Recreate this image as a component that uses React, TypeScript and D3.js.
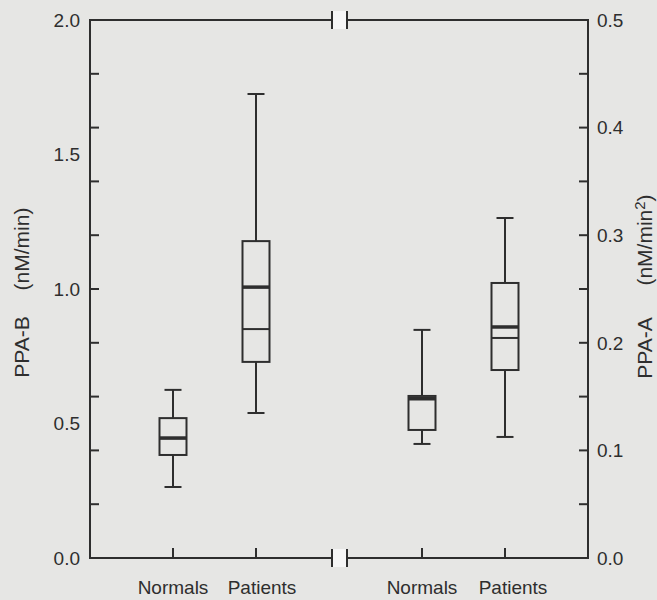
import React, { useEffect } from 'react';
import * as d3 from 'd3';

// groups on each side of the axis break
const groups = ['Normals', 'Patients'];

// PPA-B (left axis, nM/min): lower whisker, Q1, thin line, thick line, Q3, upper whisker
const ppaBLow = [0.264, 0.539];
const ppaBQ1 = [0.383, 0.729];
const ppaBThin = [0.445, 0.851];
const ppaBThick = [0.446, 1.007];
const ppaBQ3 = [0.52, 1.178];
const ppaBHigh = [0.625, 1.725];

// PPA-A (right axis, nM/min^2)
const ppaALow = [0.106, 0.1125];
const ppaAQ1 = [0.119, 0.1747];
const ppaAThin = [0.148, 0.2045];
const ppaAThick = [0.148, 0.2147];
const ppaAQ3 = [0.1506, 0.2556];
const ppaAHigh = [0.212, 0.316];

const leftTickLabels = [0, 0.5, 1.0, 1.5, 2.0];
const rightTickLabels = [0, 0.1, 0.2, 0.3, 0.4, 0.5];

const W = 657;
const H = 600;
const ink = '#2e2e2e';
const font = 'Liberation Sans, Arial, Helvetica, sans-serif';

export default function App() {
  useEffect(() => {
    document.body.style.margin = '0';
  }, []);

  const top = 20;
  const bottom = 558;
  const axL = 90;
  const axR = 588;
  const brkL = 332;
  const brkR = 347;

  const yB = d3.scaleLinear().domain([0, 2]).range([bottom, top]);
  const yA = d3.scaleLinear().domain([0, 0.5]).range([bottom, top]);
  const xB = d3.scalePoint<string>().domain(groups).range([173, 256]);
  const xA = d3.scalePoint<string>().domain(groups).range([422, 505]);

  const boxW = 27;
  const capW = 17;

  const panels = [
    { x: xB, y: yB, low: ppaBLow, q1: ppaBQ1, thin: ppaBThin, thick: ppaBThick, q3: ppaBQ3, high: ppaBHigh },
    { x: xA, y: yA, low: ppaALow, q1: ppaAQ1, thin: ppaAThin, thick: ppaAThick, q3: ppaAQ3, high: ppaAHigh },
  ];

  const fmt = d3.format('.1f');

  return (
    <svg width={W} height={H} style={{ display: 'block' }} fontFamily={font}>
      <rect width={W} height={H} fill="#e6e6e4" />

      {/* frame with break */}
      <g stroke={ink} strokeWidth={2} fill="none">
        <line x1={axL} x2={axL} y1={top} y2={bottom} />
        <line x1={axR} x2={axR} y1={top} y2={bottom} />
        {[top, bottom].map((yy) => (
          <g key={yy}>
            <line x1={axL - 1} x2={brkL} y1={yy} y2={yy} />
            <line x1={brkR} x2={axR + 1} y1={yy} y2={yy} />
            <rect x={brkL + 1} y={yy - 9} width={brkR - brkL - 2} height={18} fill="#f6f6f6" stroke="none" />
            <line x1={brkL} x2={brkL} y1={yy - 9} y2={yy + 9} />
            <line x1={brkR} x2={brkR} y1={yy - 9} y2={yy + 9} />
          </g>
        ))}
      </g>

      {/* ticks */}
      <g stroke={ink} strokeWidth={2}>
        {yB.ticks(8).map((t) => (
          <line key={'lb' + t} x1={axL} x2={axL + 9} y1={yB(t)} y2={yB(t)} />
        ))}
        {yA.ticks(10).map((t) => (
          <line key={'ra' + t} x1={axR} x2={axR - 9} y1={yA(t)} y2={yA(t)} />
        ))}
        {groups.map((g) => (
          <g key={'xt' + g}>
            <line x1={xB(g)} x2={xB(g)} y1={bottom} y2={bottom - 10} />
            <line x1={xA(g)} x2={xA(g)} y1={bottom} y2={bottom - 10} />
          </g>
        ))}
      </g>

      <g fill={ink} fontSize={19}>
        {leftTickLabels.map((t) => (
          <text key={'lbl' + t} x={axL - 10} y={yB(t)} dy="0.36em" textAnchor="end">
            {fmt(t)}
          </text>
        ))}
        {rightTickLabels.map((t) => (
          <text key={'rl' + t} x={axR + 9} y={yA(t)} dy="0.36em" textAnchor="start">
            {fmt(t)}
          </text>
        ))}
        {groups.map((g, i) => (
          <g key={'xl' + g}>
            <text x={(xB(g) as number) + i * 6} y={594} textAnchor="middle">{g}</text>
            <text x={(xA(g) as number) + i * 8} y={594} textAnchor="middle">{g}</text>
          </g>
        ))}
      </g>

      {/* axis titles */}
      <g fill={ink} fontSize={21}>
        <text transform="translate(29,347) rotate(-90)" textAnchor="middle">PPA-B</text>
        <text transform="translate(29,249) rotate(-90)" textAnchor="middle">(nM/min)</text>
        <text transform="translate(652,348) rotate(-90)" textAnchor="middle">PPA-A</text>
        <text transform="translate(652,240) rotate(-90)" textAnchor="middle">
          (nM/min<tspan dy="-7" fontSize={15}>2</tspan><tspan dy="7">)</tspan>
        </text>
      </g>

      {/* boxes */}
      {panels.map((p, pi) => (
        <g key={'p' + pi} stroke={ink} fill="none">
          {groups.map((g, i) => {
            const cx = p.x(g) as number;
            return (
              <g key={g}>
                <line x1={cx} x2={cx} y1={p.y(p.high[i])} y2={p.y(p.q3[i])} strokeWidth={2} />
                <line x1={cx} x2={cx} y1={p.y(p.q1[i])} y2={p.y(p.low[i])} strokeWidth={2} />
                <line x1={cx - capW / 2} x2={cx + capW / 2} y1={p.y(p.high[i])} y2={p.y(p.high[i])} strokeWidth={2} />
                <line x1={cx - capW / 2} x2={cx + capW / 2} y1={p.y(p.low[i])} y2={p.y(p.low[i])} strokeWidth={2} />
                <rect
                  x={cx - boxW / 2}
                  y={p.y(p.q3[i])}
                  width={boxW}
                  height={p.y(p.q1[i]) - p.y(p.q3[i])}
                  strokeWidth={2}
                />
                <line x1={cx - boxW / 2} x2={cx + boxW / 2} y1={p.y(p.thin[i])} y2={p.y(p.thin[i])} strokeWidth={2} />
                <line x1={cx - boxW / 2} x2={cx + boxW / 2} y1={p.y(p.thick[i])} y2={p.y(p.thick[i])} strokeWidth={3.5} />
              </g>
            );
          })}
        </g>
      ))}
    </svg>
  );
}
